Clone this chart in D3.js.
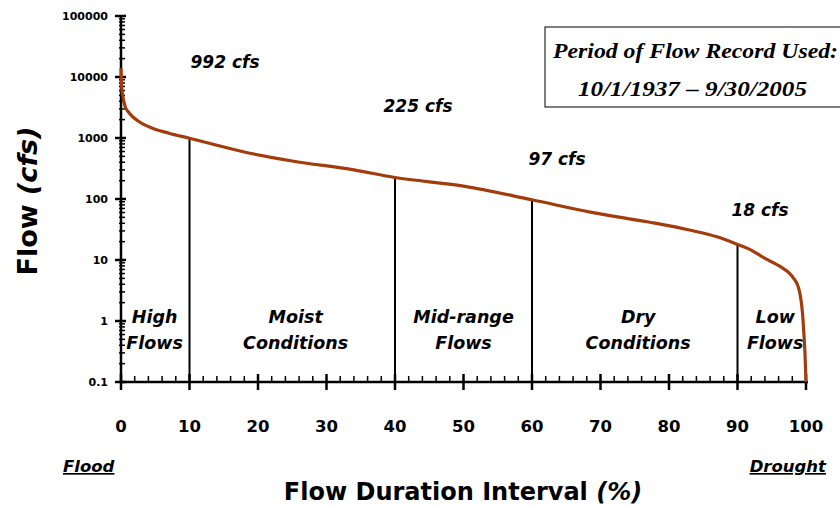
<!DOCTYPE html>
<html>
<head>
<meta charset="utf-8">
<script src="https://cdn.jsdelivr.net/npm/d3@7"></script>
<style>
  body { margin: 0; background: #fff; }
  svg { display: block; }
  .comic { font-family: "Comic Sans MS", "DejaVu Sans", sans-serif; font-weight: bold; }
</style>
</head>
<body>
<svg width="840" height="506"></svg>
<script>
// flow duration curve (percent exceeded, cfs)
var pct  = [0, 0.1, 0.3, 0.6, 1.2, 2.5, 4.5, 7, 10, 14, 18, 25, 34, 40, 50, 60, 68.5, 77, 83, 87, 90, 92, 93.5, 95, 96.5, 97.5, 98.2, 98.8, 99.2, 99.5, 99.7, 99.85, 100]
var flow = [14000, 7000, 4600, 3300, 2570, 1900, 1460, 1200, 992, 760, 590, 420, 300, 225, 163, 97, 61, 42, 31, 24, 18, 14.5, 11.5, 9.3, 7.5, 6.2, 5.0, 3.8, 2.5, 1.3, 0.6, 0.3, 0.1]

// breakpoints between flow zones and their flows
var zonePct  = [10, 40, 60, 90]
var zoneFlow = [992, 225, 97, 18]
var zoneText = ["992 cfs", "225 cfs", "97 cfs", "18 cfs"]

var zoneNames = [["High", "Flows"], ["Moist", "Conditions"], ["Mid-range", "Flows"], ["Dry", "Conditions"], ["Low", "Flows"]]
var zoneMid = [4.9, 25.5, 50, 75.5, 95.5]

var xTicks = [0, 10, 20, 30, 40, 50, 60, 70, 80, 90, 100]
var yTicks = [0.1, 1, 10, 100, 1000, 10000, 100000]
var yTickLabels = ["0.1", "1", "10", "100", "1000", "10000", "100000"]

var svg = d3.select("svg")
var x = d3.scaleLinear().domain([0, 100]).range([121, 806])
var y = d3.scaleLog().domain([0.1, 100000]).range([382, 16])

var ax = svg.append("g").attr("stroke", "#000")

// y axis line + ticks
ax.append("line").attr("x1", x(0)).attr("x2", x(0)).attr("y1", y(100000)).attr("y2", y(0.1)).attr("stroke-width", 2.5)
yTicks.forEach(function(v, i) {
  ax.append("line").attr("x1", x(0) - 6).attr("x2", x(0) + 5).attr("y1", y(v)).attr("y2", y(v)).attr("stroke-width", 2.5)
  if (i < yTicks.length - 1) {
    for (var k = 2; k <= 9; k++) {
      ax.append("line").attr("x1", x(0) - 2).attr("x2", x(0) + 4)
        .attr("y1", y(v * k)).attr("y2", y(v * k)).attr("stroke-width", 1.5)
    }
  }
})

// x axis line + ticks
ax.append("line").attr("x1", x(0)).attr("x2", x(100) + 2).attr("y1", y(0.1)).attr("y2", y(0.1)).attr("stroke-width", 2.5)
d3.range(0, 101, 2).forEach(function(v) {
  var major = v % 10 == 0
  ax.append("line").attr("x1", x(v)).attr("x2", x(v))
    .attr("y1", y(0.1) - (major ? 8 : 6)).attr("y2", y(0.1) + (major ? 8 : 0))
    .attr("stroke-width", major ? 2.5 : 1.5)
})

svg.append("g").selectAll("text").data(yTicks).enter().append("text")
  .attr("class", "comic")
  .attr("x", x(0) - 13).attr("y", d => y(d) + 4)
  .attr("text-anchor", "end").attr("font-size", 11)
  .text((d, i) => yTickLabels[i])

svg.append("g").selectAll("text").data(xTicks).enter().append("text")
  .attr("class", "comic")
  .attr("x", d => x(d)).attr("y", 432)
  .attr("text-anchor", "middle").attr("font-size", 16.5)
  .text(d => d)

// zone divider lines
svg.append("g").selectAll("line").data(zonePct).enter().append("line")
  .attr("x1", d => x(d)).attr("x2", d => x(d))
  .attr("y1", (d, i) => y(zoneFlow[i])).attr("y2", y(0.1))
  .attr("stroke", "#000").attr("stroke-width", 2)

// the curve
var line = d3.line().x((d, i) => x(pct[i])).y(d => y(d)).curve(d3.curveMonotoneX)
svg.append("path").datum(flow)
  .attr("d", line)
  .attr("fill", "none").attr("stroke", "#a33c0c").attr("stroke-width", 3.2)

// cfs labels
var cfsPos = [[225, 68], [418, 112], [557, 165], [760, 216]]
svg.append("g").selectAll("text").data(zoneText).enter().append("text")
  .attr("class", "comic").attr("font-style", "italic").attr("font-size", 17)
  .attr("text-anchor", "middle")
  .attr("x", (d, i) => cfsPos[i][0]).attr("y", (d, i) => cfsPos[i][1])
  .text(d => d)

// zone names
var zn = svg.append("g").selectAll("text").data(zoneNames).enter().append("text")
  .attr("class", "comic").attr("font-style", "italic").attr("font-size", 17.5)
  .attr("text-anchor", "middle")
  .attr("x", (d, i) => x(zoneMid[i]))
zn.append("tspan").attr("y", 323).text(d => d[0])
zn.append("tspan").attr("y", 349).attr("x", (d, i) => x(zoneMid[i])).text(d => d[1])

// record box
svg.append("rect").attr("x", 545).attr("y", 27).attr("width", 310).attr("height", 80)
  .attr("fill", "#fff").attr("stroke", "#000").attr("stroke-width", 1)
svg.append("text").attr("x", 553).attr("y", 58)
  .attr("font-family", "Liberation Serif, serif").attr("font-weight", "bold").attr("font-style", "italic")
  .attr("font-size", 21).attr("textLength", 285).attr("lengthAdjust", "spacingAndGlyphs")
  .text("Period of Flow Record Used:")
svg.append("text").attr("x", 578).attr("y", 96)
  .attr("font-family", "Liberation Serif, serif").attr("font-weight", "bold").attr("font-style", "italic")
  .attr("font-size", 21).attr("textLength", 229).attr("lengthAdjust", "spacingAndGlyphs")
  .text("10/1/1937 – 9/30/2005")

// axis titles
var yt = svg.append("text").attr("class", "comic").attr("font-size", 27)
  .attr("text-anchor", "middle")
  .attr("transform", "translate(37,201) rotate(-90)")
yt.append("tspan").text("Flow ")
yt.append("tspan").attr("font-style", "italic").text("(cfs)")

var xt = svg.append("text").attr("class", "comic").attr("font-size", 24)
  .attr("text-anchor", "middle").attr("x", 463).attr("y", 500)
xt.append("tspan").text("Flow Duration Interval ")
xt.append("tspan").attr("font-style", "italic").text("(%)")

svg.append("text").attr("class", "comic").attr("font-style", "italic").attr("font-size", 16.5)
  .attr("text-decoration", "underline").attr("x", 63).attr("y", 472).text("Flood")
svg.append("text").attr("class", "comic").attr("font-style", "italic").attr("font-size", 16.5)
  .attr("text-decoration", "underline").attr("text-anchor", "end").attr("x", 826).attr("y", 472).text("Drought")
</script>
</body>
</html>
